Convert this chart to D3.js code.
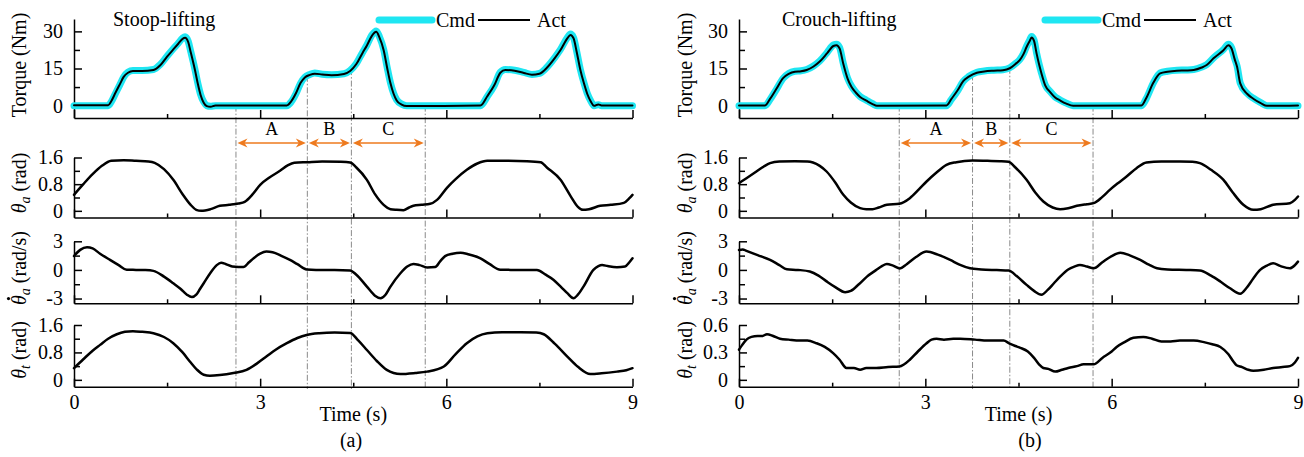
<!DOCTYPE html>
<html><head><meta charset="utf-8">
<script src="https://cdn.jsdelivr.net/npm/d3@7"></script>
<style>
body{margin:0;background:#fff}
svg{display:block}
text{font-family:"Liberation Serif","Times New Roman",serif;fill:#000}
</style>
</head><body>
<svg id="c" width="1304" height="457"></svg>
<script>
// ---------------- DATA ----------------
const xTickMajor = [0, 3, 6, 9];
const xTickMinor = [1.5, 4.5, 7.5];
const torqueTicks = [0, 15, 30];
const torqueMinor = [7.5, 22.5];
const angleTicks = [0, 0.8, 1.6];
const angleMinor = [0.4, 1.2];
const velTicks = [-3, 0, 3];
const velMinor = [-1.5, 1.5];
const crouchThighTicks = [0, 0.3, 0.6];
const crouchThighMinor = [0.15, 0.45];
const phaseLabels = ["A", "B", "C"];

// (a) Stoop-lifting
const stoopTorqueCmd = [[0,0],[0.55,0],[0.6,1.5],[0.67,5],[0.74,8.5],[0.8,11.5],[0.87,13.5],[0.95,14.2],[1.1,14.2],[1.28,14.6],[1.39,16.6],[1.5,20],[1.6,23],[1.68,25.2],[1.75,27.3],[1.79,27.8],[1.84,26],[1.88,22],[1.95,14.5],[2.0,8.5],[2.04,4.5],[2.09,1.5],[2.14,0],[2.2,-0.3],[2.28,0],[3.43,0],[3.5,1.5],[3.58,5],[3.65,9],[3.72,11.5],[3.8,12.6],[3.88,13.2],[4.0,12.7],[4.15,12.5],[4.35,12.9],[4.45,14.2],[4.55,17],[4.65,21.5],[4.72,24.5],[4.8,28.5],[4.87,30.2],[4.92,28],[4.99,22.7],[5.05,15],[5.1,9.2],[5.15,5],[5.2,2.3],[5.28,0.6],[5.36,0],[6.55,0],[6.66,3.7],[6.77,8],[6.87,13.5],[6.95,14.6],[7.1,14.3],[7.25,13.4],[7.38,12.6],[7.5,13],[7.62,15.5],[7.75,19.5],[7.84,22.7],[7.95,27.5],[8.0,28.9],[8.05,27.5],[8.1,22],[8.16,14.6],[8.22,9],[8.27,5],[8.33,1.8],[8.38,0],[8.45,0.4],[8.5,0],[9,0]];
const stoopTorqueAct = [[0,0.2],[0.55,0.2],[0.6,1.8],[0.67,5.3],[0.74,8.7],[0.8,11.6],[0.87,13.3],[0.95,14],[1.1,14],[1.28,14.4],[1.39,16.3],[1.5,19.8],[1.6,22.7],[1.68,25],[1.75,27],[1.79,27.4],[1.84,25.7],[1.88,21.7],[1.95,14.3],[2.0,8.3],[2.04,4.3],[2.09,1.2],[2.14,-0.2],[2.2,-0.5],[2.28,0.1],[3.43,0.1],[3.5,1.7],[3.58,5.2],[3.65,9.1],[3.72,11.4],[3.8,12.4],[3.88,12.9],[4.0,12.6],[4.15,12.3],[4.35,12.8],[4.45,14],[4.55,16.8],[4.65,21.3],[4.72,24.3],[4.8,28.2],[4.87,29.8],[4.92,27.7],[4.99,22.4],[5.05,14.8],[5.1,9],[5.15,4.8],[5.2,2.1],[5.28,0.4],[5.36,-0.2],[6.55,0.1],[6.66,3.8],[6.77,8.1],[6.87,13.3],[6.95,14.4],[7.1,14.1],[7.25,13.2],[7.38,12.5],[7.5,12.9],[7.62,15.3],[7.75,19.3],[7.84,22.5],[7.95,27.2],[8.0,28.5],[8.05,27.2],[8.1,21.8],[8.16,14.4],[8.22,8.8],[8.27,4.8],[8.33,1.6],[8.38,-0.1],[8.45,0.5],[8.5,0.1],[9,0.1]];
const stoopAnkle = [[0,0.48],[0.15,0.8],[0.3,1.1],[0.45,1.35],[0.6,1.5],[0.8,1.52],[1.0,1.5],[1.2,1.48],[1.3,1.44],[1.45,1.25],[1.6,0.93],[1.75,0.5],[1.88,0.18],[1.97,0.03],[2.05,0.0],[2.2,0.05],[2.35,0.15],[2.5,0.18],[2.65,0.22],[2.75,0.27],[2.88,0.5],[3.0,0.78],[3.15,1.0],[3.32,1.2],[3.45,1.37],[3.55,1.44],[3.76,1.46],[4.0,1.48],[4.3,1.47],[4.45,1.45],[4.55,1.3],[4.72,0.93],[4.85,0.5],[4.99,0.18],[5.1,0.05],[5.2,0.03],[5.31,0.02],[5.4,0.1],[5.47,0.15],[5.6,0.18],[5.74,0.21],[5.85,0.33],[6.01,0.69],[6.15,0.95],[6.33,1.23],[6.5,1.42],[6.66,1.5],[7.0,1.5],[7.3,1.49],[7.52,1.46],[7.62,1.3],[7.84,0.93],[8.0,0.45],[8.12,0.12],[8.2,0.03],[8.3,0.05],[8.48,0.15],[8.65,0.18],[8.86,0.24],[8.95,0.38],[9,0.48]];
const stoopAnkleVel = [[0,1.46],[0.1,2.1],[0.21,2.37],[0.3,2.25],[0.42,1.7],[0.58,1.05],[0.72,0.5],[0.85,0.02],[1.0,0],[1.15,-0.02],[1.28,-0.1],[1.45,-0.7],[1.6,-1.4],[1.72,-2.0],[1.82,-2.6],[1.9,-2.85],[1.97,-2.6],[2.03,-2.0],[2.09,-1.4],[2.2,-0.3],[2.3,0.5],[2.37,0.75],[2.45,0.6],[2.55,0.35],[2.65,0.3],[2.73,0.3],[2.82,0.8],[2.9,1.25],[3.0,1.7],[3.1,1.92],[3.2,1.85],[3.35,1.45],[3.48,1.05],[3.6,0.6],[3.75,0.05],[3.9,0],[4.2,0],[4.45,-0.05],[4.55,-0.5],[4.72,-1.75],[4.85,-2.7],[4.94,-2.97],[5.02,-2.6],[5.1,-1.75],[5.26,-0.35],[5.37,0.35],[5.47,0.63],[5.57,0.5],[5.69,0.25],[5.82,0.3],[5.9,0.9],[5.98,1.45],[6.1,1.7],[6.23,1.8],[6.35,1.65],[6.55,1.22],[6.7,0.6],[6.87,0.02],[7.1,0],[7.46,-0.02],[7.6,-0.5],[7.73,-1.05],[7.85,-1.8],[7.95,-2.44],[8.05,-2.97],[8.12,-2.6],[8.21,-1.75],[8.37,0],[8.45,0.4],[8.51,0.52],[8.6,0.4],[8.75,0.28],[8.88,0.35],[8.95,0.8],[9,1.22]];
const stoopThigh = [[0,0.34],[0.15,0.6],[0.3,0.85],[0.42,1.02],[0.55,1.2],[0.69,1.33],[0.82,1.4],[0.95,1.42],[1.1,1.4],[1.28,1.36],[1.45,1.25],[1.6,1.07],[1.75,0.8],[1.87,0.53],[1.98,0.3],[2.09,0.15],[2.19,0.12],[2.35,0.14],[2.57,0.2],[2.78,0.29],[2.95,0.48],[3.1,0.68],[3.25,0.88],[3.43,1.07],[3.6,1.22],[3.75,1.31],[3.95,1.36],[4.2,1.38],[4.45,1.37],[4.58,1.15],[4.72,0.87],[4.88,0.55],[5.04,0.29],[5.15,0.2],[5.26,0.17],[5.5,0.2],[5.69,0.24],[5.96,0.39],[6.15,0.75],[6.33,1.07],[6.5,1.27],[6.66,1.36],[6.9,1.39],[7.2,1.39],[7.45,1.38],[7.57,1.33],[7.75,1.05],[7.95,0.68],[8.12,0.38],[8.32,0.17],[8.5,0.19],[8.75,0.24],[8.9,0.28],[9,0.34]];
const stoopPhaseTimes = [2.61, 3.76, 4.47, 5.66];

// (b) Crouch-lifting
const crouchTorqueCmd = [[0,0],[0.42,0],[0.5,2.5],[0.6,6.5],[0.71,11],[0.8,13],[0.9,13.9],[1.0,14.1],[1.09,14.6],[1.2,16],[1.3,18],[1.42,21.5],[1.52,24.5],[1.57,24.8],[1.62,23.5],[1.68,17],[1.75,11],[1.81,7.9],[1.88,5.5],[1.95,3.7],[2.05,2.2],[2.15,0.8],[2.22,0],[3.34,0],[3.42,2.5],[3.52,6],[3.61,9.8],[3.7,11.8],[3.83,13.5],[3.95,14],[4.1,14.3],[4.25,14.5],[4.36,15.3],[4.45,17],[4.52,18.6],[4.58,21],[4.63,24],[4.68,26.5],[4.71,27.9],[4.75,26.5],[4.79,21.4],[4.83,17],[4.87,13.2],[4.93,8.4],[5.01,5.7],[5.09,3.5],[5.17,2.3],[5.27,1],[5.38,0],[6.48,0],[6.56,3],[6.67,9.1],[6.78,13.2],[6.9,13.9],[7.05,14.3],[7.2,14.4],[7.32,14.6],[7.45,15.6],[7.53,16.6],[7.64,19.3],[7.8,22.7],[7.88,24.8],[7.93,23.4],[7.98,19],[8.02,15.9],[8.07,9.1],[8.18,5],[8.28,3],[8.4,1.2],[8.5,0],[9,0]];
const crouchTorqueAct = [[0,0.1],[0.42,0.1],[0.5,2.7],[0.6,6.7],[0.71,11.1],[0.8,12.8],[0.9,13.7],[1.0,13.9],[1.09,14.4],[1.2,15.8],[1.3,17.8],[1.42,21.2],[1.52,24.1],[1.57,24.4],[1.62,23.1],[1.68,16.8],[1.75,10.8],[1.81,7.6],[1.88,5.3],[1.95,3.5],[2.05,2.0],[2.15,0.6],[2.22,-0.1],[3.34,0.1],[3.42,2.7],[3.52,6.2],[3.61,9.9],[3.7,11.7],[3.83,13.3],[3.95,13.8],[4.1,14.1],[4.25,14.3],[4.36,15.1],[4.45,16.8],[4.52,18.4],[4.58,20.8],[4.63,23.7],[4.68,26.1],[4.71,27.5],[4.75,26.2],[4.79,21.2],[4.83,16.8],[4.87,13],[4.93,8.2],[5.01,5.5],[5.09,3.3],[5.17,2.1],[5.27,0.8],[5.38,-0.1],[6.48,0.1],[6.56,3.2],[6.67,9.2],[6.78,13],[6.9,13.7],[7.05,14.1],[7.2,14.2],[7.32,14.4],[7.45,15.4],[7.53,16.4],[7.64,19.1],[7.8,22.4],[7.88,24.4],[7.93,23.1],[7.98,18.8],[8.02,15.6],[8.07,9],[8.18,4.8],[8.28,2.8],[8.4,1.0],[8.5,-0.1],[9,0.1]];
const crouchAnkle = [[0,0.83],[0.12,0.98],[0.28,1.18],[0.4,1.33],[0.5,1.43],[0.65,1.48],[0.9,1.49],[1.1,1.48],[1.19,1.45],[1.3,1.35],[1.41,1.18],[1.55,0.85],[1.68,0.48],[1.8,0.25],[1.95,0.08],[2.05,0.05],[2.15,0.05],[2.25,0.1],[2.38,0.18],[2.58,0.21],[2.75,0.38],[2.9,0.65],[3.02,0.88],[3.18,1.15],[3.34,1.38],[3.5,1.46],[3.76,1.51],[4.0,1.5],[4.2,1.49],[4.34,1.47],[4.45,1.3],[4.63,0.93],[4.77,0.55],[4.9,0.28],[5.05,0.1],[5.17,0.05],[5.3,0.08],[5.44,0.15],[5.6,0.2],[5.71,0.23],[5.85,0.42],[5.97,0.63],[6.1,0.83],[6.24,1.03],[6.4,1.28],[6.56,1.45],[6.8,1.48],[7.1,1.48],[7.3,1.47],[7.42,1.43],[7.6,1.23],[7.8,0.93],[7.95,0.55],[8.12,0.18],[8.28,0.03],[8.4,0.05],[8.6,0.18],[8.87,0.23],[8.95,0.33],[9,0.43]];
const crouchAnkleVel = [[0,2.09],[0.06,2.15],[0.12,2.0],[0.3,1.55],[0.5,1.05],[0.65,0.5],[0.77,0.07],[0.95,0],[1.14,-0.17],[1.28,-0.6],[1.41,-1.2],[1.55,-1.8],[1.71,-2.33],[1.8,-2.2],[1.93,-1.5],[2.06,-0.7],[2.2,-0.05],[2.3,0.4],[2.38,0.63],[2.48,0.45],[2.59,0.15],[2.7,0.6],[2.85,1.35],[3.02,1.92],[3.2,1.6],[3.4,1.05],[3.55,0.55],[3.72,0.17],[3.9,0.05],[4.15,-0.02],[4.34,-0.07],[4.48,-0.7],[4.63,-1.57],[4.75,-2.2],[4.87,-2.6],[4.97,-2.1],[5.07,-1.4],[5.17,-0.7],[5.3,0.05],[5.4,0.35],[5.49,0.52],[5.6,0.35],[5.71,0.17],[5.85,0.8],[6.0,1.45],[6.14,1.81],[6.3,1.5],[6.46,1.05],[6.6,0.55],[6.73,0.17],[6.9,0.05],[7.2,0],[7.42,-0.05],[7.6,-0.6],[7.75,-1.22],[7.9,-1.9],[8.07,-2.5],[8.17,-1.9],[8.28,-0.9],[8.39,0],[8.5,0.45],[8.6,0.7],[8.72,0.4],[8.87,0.17],[8.95,0.5],[9,0.87]];
const crouchThigh = [[0,0.33],[0.05,0.38],[0.12,0.44],[0.2,0.47],[0.3,0.48],[0.38,0.48],[0.45,0.5],[0.55,0.48],[0.66,0.45],[0.8,0.44],[0.98,0.43],[1.1,0.43],[1.25,0.40],[1.38,0.36],[1.52,0.29],[1.62,0.22],[1.73,0.13],[1.85,0.13],[1.95,0.11],[2.05,0.13],[2.21,0.13],[2.4,0.14],[2.58,0.145],[2.66,0.17],[2.75,0.22],[2.88,0.31],[3.02,0.4],[3.1,0.44],[3.18,0.45],[3.3,0.44],[3.45,0.45],[3.56,0.45],[3.8,0.44],[4.0,0.43],[4.26,0.43],[4.35,0.40],[4.45,0.37],[4.53,0.35],[4.65,0.31],[4.75,0.24],[4.83,0.17],[4.9,0.13],[4.98,0.12],[5.09,0.09],[5.2,0.11],[5.3,0.13],[5.44,0.15],[5.55,0.17],[5.71,0.17],[5.85,0.24],[6.0,0.31],[6.08,0.36],[6.2,0.41],[6.35,0.46],[6.51,0.47],[6.65,0.45],[6.8,0.42],[6.95,0.42],[7.1,0.43],[7.32,0.43],[7.5,0.41],[7.62,0.39],[7.75,0.36],[7.88,0.28],[7.96,0.2],[8.01,0.16],[8.1,0.14],[8.2,0.11],[8.28,0.1],[8.45,0.11],[8.6,0.13],[8.75,0.14],[8.87,0.15],[8.95,0.19],[9,0.24]];
const crouchPhaseTimes = [2.58, 3.76, 4.36, 5.70];

// ---------------- DRAWING ----------------
const svg = d3.select('#c');
const CMD_COLOR = '#1FE6F2', ORANGE = '#EE7A1E', DASH = '#8a8a8a';

function interp(arr, t) {
  for (let i = 0; i < arr.length - 1; i++) {
    if (t >= arr[i][0] && t <= arr[i + 1][0]) {
      const f = (t - arr[i][0]) / (arr[i + 1][0] - arr[i][0]);
      return arr[i][1] + f * (arr[i + 1][1] - arr[i][1]);
    }
  }
  return arr[arr.length - 1][1];
}

function yLabel(g, kind, x, y) {
  const lg = g.append('g').attr('transform', `translate(${x},${y}) rotate(-90)`);
  const t = lg.append('text')
    .attr('text-anchor', 'middle')
    .attr('y', 7)
    .style('font-size', '20px');
  if (kind === 'torque') { t.text('Torque (Nm)'); return; }
  const sub = kind === 'thigh' ? 't' : 'a';
  t.append('tspan').style('font-style', 'italic').text('θ');
  t.append('tspan').style('font-style', 'italic').style('font-size', '14px').attr('dy', '4').text(sub);
  t.append('tspan').attr('dy', '-4').text(kind === 'vel' ? ' (rad/s)' : ' (rad)');
  if (kind === 'vel') {
    const node = t.node();
    const ext = node.getExtentOfChar(0);
    const base = node.getStartPositionOfChar(0);
    lg.append('circle').attr('cx', ext.x + ext.width / 2 + 1.5).attr('cy', base.y - 17.5)
      .attr('r', 1.6).attr('fill', '#000');
  }
}

function drawPanel(p) {
  const g = svg.append('g');
  const x = d3.scaleLinear().domain([0, 9]).range([p.x0, p.x1]);
  const rows = p.rows;
  const ys = rows.map(r => d3.scaleLinear().domain(r.domain).range([r.bottom, r.top]));

  // phase marker lines (behind curves)
  p.phaseTimes.forEach(t => {
    const yTop = ys[0](interp(rows[0].series[0].data, t));
    g.append('line').attr('x1', x(t)).attr('x2', x(t))
      .attr('y1', yTop).attr('y2', 389)
      .attr('stroke', DASH).attr('stroke-width', 1)
      .attr('stroke-dasharray', '6,2,1.5,2');
  });

  rows.forEach((r, i) => {
    const y = ys[i];
    const rg = g.append('g');
    const ya = d3.axisLeft(y).tickValues(r.major).tickSize(-8).tickSizeOuter(0).tickPadding(11)
      .tickFormat(d => String(d));
    const yag = rg.append('g').attr('transform', `translate(${p.x0},0)`).call(ya);
    yag.selectAll('text').style('font-size', '20px');
    rg.append('g').attr('transform', `translate(${p.x0},0)`)
      .call(d3.axisLeft(y).tickValues(r.minor).tickSize(-6).tickSizeOuter(0).tickFormat(''))
      .select('.domain').remove();
    const xa = d3.axisBottom(x).tickValues(xTickMajor).tickSize(-8).tickSizeOuter(0).tickPadding(8)
      .tickFormat(i === rows.length - 1 ? d => String(d) : '');
    const xag = rg.append('g').attr('transform', `translate(0,${r.bottom})`).call(xa);
    xag.selectAll('text').style('font-size', '20px');
    rg.append('g').attr('transform', `translate(0,${r.bottom})`)
      .call(d3.axisBottom(x).tickValues(xTickMinor).tickSize(-4).tickSizeOuter(0).tickFormat(''))
      .select('.domain').remove();
    rg.selectAll('.domain, .tick line').attr('stroke', '#000').attr('stroke-width', 1.5);
    rg.selectAll('g').attr('font-family', null);

    const line = d3.line().x(d => x(d[0])).y(d => y(d[1])).curve(d3.curveMonotoneX);
    r.series.forEach(s => {
      g.append('path').datum(s.data).attr('d', line)
        .attr('fill', 'none').attr('stroke', s.color).attr('stroke-width', s.width)
        .attr('stroke-linejoin', 'round').attr('stroke-linecap', 'round');
    });
    yLabel(g, r.kind, p.labelX, r.labelY);
  });

  // phase arrows
  const ay = 143;
  p.phaseTimes.slice(0, -1).forEach((t, k) => {
    const xa = x(t) + 1.5, xb = x(p.phaseTimes[k + 1]) - 1.5;
    g.append('line').attr('x1', xa + 4).attr('x2', xb - 4).attr('y1', ay).attr('y2', ay)
      .attr('stroke', ORANGE).attr('stroke-width', 1.6);
    g.append('path').attr('d', `M${xa},${ay} L${xa + 10},${ay - 4.5} L${xa + 7},${ay} L${xa + 10},${ay + 4.5} Z`).attr('fill', ORANGE);
    g.append('path').attr('d', `M${xb},${ay} L${xb - 10},${ay - 4.5} L${xb - 7},${ay} L${xb - 10},${ay + 4.5} Z`).attr('fill', ORANGE);
    g.append('text').attr('x', (xa + xb) / 2).attr('y', 135).attr('text-anchor', 'middle')
      .style('font-size', '18px').text(phaseLabels[k]);
  });

  g.append('text').attr('x', p.titleX).attr('y', 26).style('font-size', '20px').text(p.title);
  const L = p.legendX;
  g.append('line').attr('x1', L).attr('x2', L + 53).attr('y1', 20).attr('y2', 20)
    .attr('stroke', CMD_COLOR).attr('stroke-width', 7).attr('stroke-linecap', 'round');
  g.append('text').attr('x', L + 57).attr('y', 27).style('font-size', '20px').text('Cmd');
  g.append('line').attr('x1', L + 99).attr('x2', L + 151).attr('y1', 20).attr('y2', 20)
    .attr('stroke', '#000').attr('stroke-width', 2);
  g.append('text').attr('x', L + 158).attr('y', 27).style('font-size', '20px').text('Act');

  g.append('text').attr('x', (p.x0 + p.x1) / 2).attr('y', 421).attr('text-anchor', 'middle')
    .style('font-size', '20px').text('Time (s)');
  g.append('text').attr('x', p.captionX).attr('y', 447).attr('text-anchor', 'middle')
    .style('font-size', '20px').text(p.caption);
}

function makeRows(torqueCmd, torqueAct, ankle, ankleVel, thigh, thighDomain, thighMajor, thighMinor) {
  return [
    { kind: 'torque', top: 19, bottom: 118, domain: [-5, 35], major: torqueTicks, minor: torqueMinor, labelY: 65,
      series: [{ data: torqueCmd, color: CMD_COLOR, width: 7 }, { data: torqueAct, color: '#000', width: 2 }] },
    { kind: 'ankle', top: 157.5, bottom: 217.5, domain: [-0.2, 1.6], major: angleTicks, minor: angleMinor, labelY: 183,
      series: [{ data: ankle, color: '#000', width: 2.5 }] },
    { kind: 'vel', top: 241.3, bottom: 303.3, domain: [-3.5, 3], major: velTicks, minor: velMinor, labelY: 268,
      series: [{ data: ankleVel, color: '#000', width: 2.5 }] },
    { kind: 'thigh', top: 325, bottom: 386.7, domain: thighDomain, major: thighMajor, minor: thighMinor, labelY: 350,
      series: [{ data: thigh, color: '#000', width: 2.5 }] }
  ];
}

drawPanel({
  x0: 74, x1: 632.5, labelX: 19, title: 'Stoop-lifting', titleX: 113, legendX: 379,
  caption: '(a)', captionX: 351, phaseTimes: stoopPhaseTimes,
  rows: makeRows(stoopTorqueCmd, stoopTorqueAct, stoopAnkle, stoopAnkleVel, stoopThigh, [-0.2, 1.6], angleTicks, angleMinor)
});
drawPanel({
  x0: 739, x1: 1298, labelX: 685, title: 'Crouch-lifting', titleX: 782, legendX: 1045,
  caption: '(b)', captionX: 1030, phaseTimes: crouchPhaseTimes,
  rows: makeRows(crouchTorqueCmd, crouchTorqueAct, crouchAnkle, crouchAnkleVel, crouchThigh, [-0.075, 0.6], crouchThighTicks, crouchThighMinor)
});
</script>
</body></html>
